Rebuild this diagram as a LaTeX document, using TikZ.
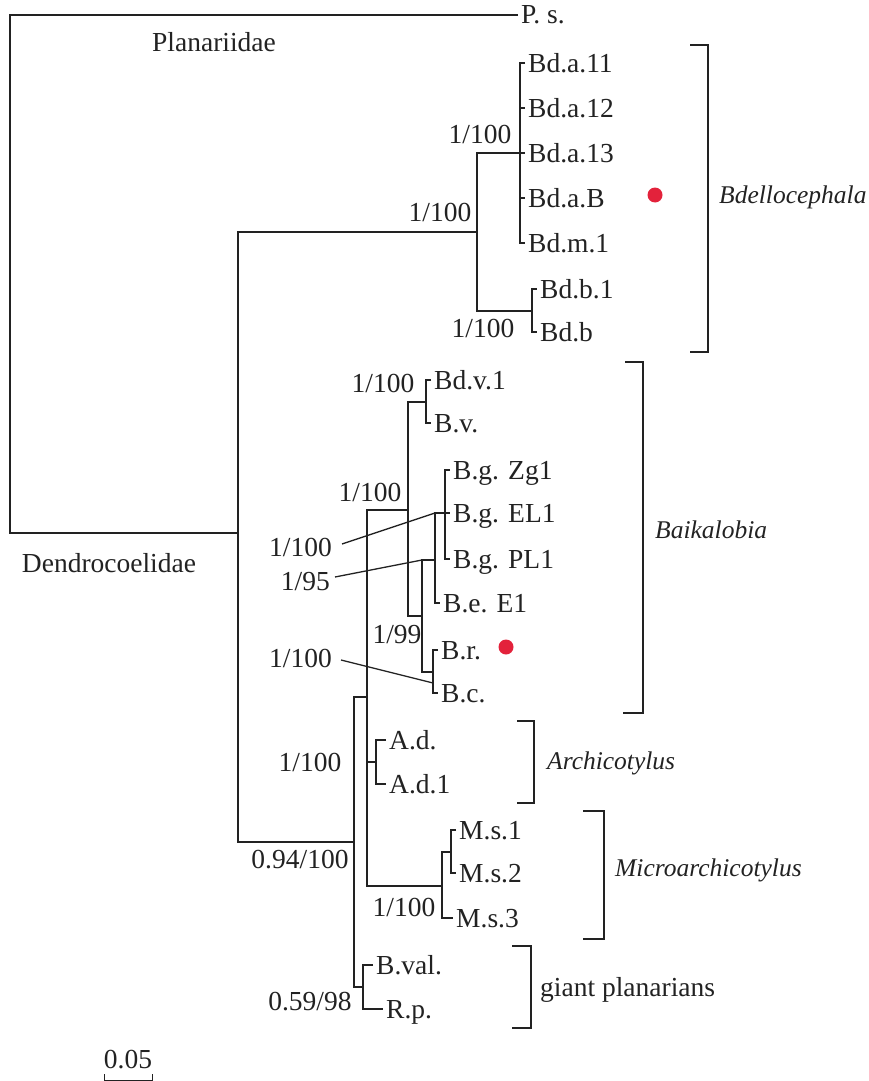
\documentclass[tikz,border=0pt]{standalone}
\usepackage{fontspec}
\setmainfont{Liberation Serif}
\definecolor{dotred}{HTML}{E3223B}
\definecolor{ink}{HTML}{222222}

\begin{document}
\begin{tikzpicture}[
  x=1pt, y=-1pt,
  every node/.style={font=\fontsize{27.5pt}{33pt}\selectfont, text=ink},
  branch/.style={line width=1.3pt, draw=ink},
  leaf/.style={anchor=west, inner sep=3pt, text height=18pt, text depth=0pt},
  supp/.style={inner sep=0pt},
  clade/.style={anchor=west, inner sep=2pt, font=\fontsize{25.5pt}{31pt}\selectfont\itshape},
  reddot/.style={circle, fill=dotred, inner sep=0pt, minimum size=15pt}
]
\useasboundingbox (0,0) rectangle (868,1081);

% leaves
\node[leaf] (ps) at (518,15) {P. s.};
\node[leaf] (a11) at (525,63) {Bd.a.11};
\node[leaf] (a12) at (525,108) {Bd.a.12};
\node[leaf] (a13) at (525,153) {Bd.a.13};
\node[leaf] (aB) at (525,198) {Bd.a.B};
\node[leaf] (m1) at (525,243) {Bd.m.1};
\node[leaf] (b1) at (537,289) {Bd.b.1};
\node[leaf] (bb) at (537,332) {Bd.b};
\node[leaf] (v1) at (431,380) {Bd.v.1};
\node[leaf] (bv) at (431,423) {B.v.};
\node[leaf] (gZ) at (450,470) {B.g. Zg1};
\node[leaf] (gEL) at (450,513) {B.g. EL1};
\node[leaf] (gPL) at (450,559) {B.g. PL1};
\node[leaf] (eE1) at (440,603) {B.e. E1};
\node[leaf] (br) at (438,650) {B.r.};
\node[leaf] (bc) at (438,693) {B.c.};
\node[leaf] (ad) at (386,740) {A.d.};
\node[leaf] (ad1) at (386,784) {A.d.1};
\node[leaf] (ms1) at (456,830) {M.s.1};
\node[leaf] (ms2) at (456,873) {M.s.2};
\node[leaf] (ms3) at (453,918) {M.s.3};
\node[leaf] (bval) at (373,965) {B.val.};
\node[leaf] (rp) at (383,1009) {R.p.};

% inner nodes
\coordinate (root) at (10,274);
\coordinate (nDen) at (238,533);
\coordinate (nBde) at (477,232);
\coordinate (nBda) at (520,153);
\coordinate (nBdb) at (532,311);
\coordinate (nRest) at (354,842);
\coordinate (nMid) at (367,697);
\coordinate (nGiant) at (363,987);
\coordinate (nBai) at (408,510);
\coordinate (nAd) at (376,762);
\coordinate (nMs) at (442,886);
\coordinate (nBv) at (426,402);
\coordinate (nBge) at (422,616);
\coordinate (nBg) at (435,560);
\coordinate (nBrc) at (433,672);
\coordinate (nBgg) at (445,513);
\coordinate (nMs12) at (451,852);

% branches
\draw[branch] (ps.west) -| (root) |- (nDen);
\draw[branch] (nBde) -| (nDen) |- (nRest);
\draw[branch] (nBda) -| (nBde) |- (nBdb);
\draw[branch] (a11.west) -| (nBda) |- (m1.west);
\foreach \l in {a12,a13,aB}
  \draw[branch] (nBda |- \l.west) -- (\l.west);
\draw[branch] (b1.west) -| (nBdb) |- (bb.west);
\draw[branch] (nMid) -| (nRest) |- (nGiant);
\draw[branch] (nBai) -| (nMid) |- (nMs);
\draw[branch] (nMid |- nAd) -- (nAd);
\draw[branch] (nBv) -| (nBai) |- (nBge);
\draw[branch] (v1.west) -| (nBv) |- (bv.west);
\draw[branch] (nBg) -| (nBge) |- (nBrc);
\draw[branch] (nBgg) -| (nBg) |- (eE1.west);
\draw[branch] (gZ.west) -| (nBgg) |- (gPL.west);
\draw[branch] (nBgg) -- (gEL.west);
\draw[branch] (br.west) -| (nBrc) |- (bc.west);
\draw[branch] (ad.west) -| (nAd) |- (ad1.west);
\draw[branch] (nMs12) -| (nMs) |- (ms3.west);
\draw[branch] (ms1.west) -| (nMs12) |- (ms2.west);
\draw[branch] (bval.west) -| (nGiant) |- (rp.west);

% support values
\node[supp] (sBda) at (480,134) {1/100};
\node[supp] (sBde) at (440,212) {1/100};
\node[supp] (sBdb) at (483,328) {1/100};
\node[supp] (sBv) at (383,383) {1/100};
\node[supp] (sBai) at (370,492) {1/100};
\node[supp, anchor=east] (sBgg) at (332,547) {1/100};
\node[supp, anchor=east] (sBg) at (330,582) {1/95};
\node[supp] (sBge) at (397,635) {1/99};
\node[supp, anchor=east] (sBrc) at (332,658) {1/100};
\node[supp] (sMid) at (310,762) {1/100};
\node[supp] (sRest) at (300,860) {0.94/100};
\node[supp] (sMs) at (404,907) {1/100};
\node[supp] (sGiant) at (310,1002) {0.59/98};
\draw[branch] ([xshift=10pt, yshift=3pt]sBgg.east) -- (nBg |- nBgg);
\draw[branch] ([xshift=5pt, yshift=5pt]sBg.east) -- (nBge |- nBg);
\draw[branch] ([xshift=9pt, yshift=-2pt]sBrc.east) -- ([yshift=-11pt]nBrc);

% families
\node (planar) at (214,42) {Planariidae};
\node (dendro) at (109,563) {Dendrocoelidae};

% clade brackets
\draw[branch] (690,45) -- (708,45) -- (708,352) -- (690,352);
\draw[branch] (625,362) -- (643,362) -- (643,713) -- (623,713);
\draw[branch] (517,721) -- (534,721) -- (534,803) -- (517,803);
\draw[branch] (583,811) -- (604,811) -- (604,939) -- (583,939);
\draw[branch] (512,946) -- (531,946) -- (531,1028) -- (512,1028);
\node[clade] (cBde) at (717,197) {Bdellocephala};
\node[clade] (cBai) at (653,530) {Baikalobia};
\node[clade] (cArc) at (545,763) {Archicotylus};
\node[clade] (cMic) at (613,870) {Microarchicotylus};
\node[clade, font=\fontsize{27.5pt}{33pt}\selectfont] (cGia) at (538,990) {giant planarians};

% marked samples
\node[reddot] (dotB) at (655,195) {};
\node[reddot] (dotR) at (506,647) {};

% scale bar
\node (scl) at (128,1060) {0.05};
\draw[branch, line width=1pt] (104,1074) -- (104,1080) -- (152,1080) -- (152,1074);
\end{tikzpicture}
\end{document}
